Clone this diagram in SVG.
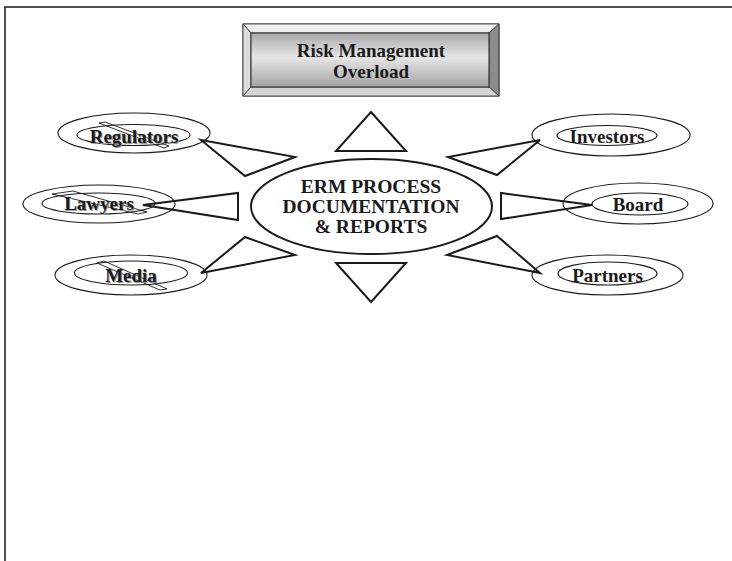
<svg xmlns="http://www.w3.org/2000/svg" width="732" height="561" viewBox="0 0 732 561">
<style>
.t{font-family:"Liberation Serif","Times New Roman",serif;font-weight:bold;fill:#1a1a1a;text-anchor:middle}
.lbl{font-size:19px}
.sh{font-family:"Liberation Serif","Times New Roman",serif;font-weight:bold;fill:#9a9a9a;text-anchor:middle;font-size:19px}
.ol{fill:none;stroke:#1a1a1a;stroke-width:1.1}
.conn{fill:none;stroke:#1a1a1a;stroke-width:2;stroke-linejoin:miter}
.slash{fill:none;stroke:#1a1a1a;stroke-width:0.9}
</style>
<defs>
<linearGradient id="face" x1="0" y1="0" x2="0" y2="1">
<stop offset="0" stop-color="#a9a9a9"/>
<stop offset="0.45" stop-color="#e6e6e6"/>
<stop offset="1" stop-color="#a4a4a4"/>
</linearGradient>
</defs>
<rect width="732" height="561" fill="#fff"/>
<path d="M5,561 V7 H732" fill="none" stroke="#1a1a1a" stroke-width="1.5"/>

<g id="connectors">
<polygon class="conn" points="371,112 406,151 336,151"/>
<polygon class="conn" points="371,302 406,263 336,263"/>
<polygon class="conn" points="201,140 295,157 245,176"/>
<polygon class="conn" points="143,205 238,193 238,220"/>
<polygon class="conn" points="201,273 295,255 245,237"/>
<polygon class="conn" points="540,140 448,157 497,175"/>
<polygon class="conn" points="592,205 501,193 501,219"/>
<polygon class="conn" points="540,273 447,255 497,236"/>
</g>

<g id="title">
<rect x="243" y="24" width="256" height="72" fill="#cfcfcf" stroke="#333" stroke-width="1"/>
<polygon points="243,24 499,24 489,33 251,33" fill="#efefef" stroke="#333" stroke-width="0.8"/>
<polygon points="243,24 251,33 251,87 243,96" fill="#dcdcdc" stroke="#333" stroke-width="0.8"/>
<polygon points="499,24 489,33 489,87 499,96" fill="#8c8c8c" stroke="#333" stroke-width="0.8"/>
<polygon points="243,96 251,87 489,87 499,96" fill="#d4d4d4" stroke="#333" stroke-width="0.8"/>
<rect x="251" y="33" width="238" height="54" fill="url(#face)" stroke="#222" stroke-width="1"/>
<text class="t" x="371" y="57" font-size="19">Risk Management</text>
<text class="t" x="371" y="78" font-size="19">Overload</text>
</g>

<g id="center">
<ellipse cx="371.5" cy="206.5" rx="120.5" ry="47.5" fill="#fff" stroke="#1a1a1a" stroke-width="2"/>
<text class="t" x="371" y="193" font-size="19.5">ERM PROCESS</text>
<text class="t" x="371" y="213" font-size="19.5">DOCUMENTATION</text>
<text class="t" x="371" y="233" font-size="19.5">&amp; REPORTS</text>
</g>

<g id="regulators">
<ellipse class="ol" cx="134" cy="133" rx="76" ry="20"/>
<ellipse class="ol" cx="133.5" cy="135" rx="56.5" ry="10.5"/>
<polygon class="slash" points="99,123 105,122 169,146 164,148"/>
<text class="sh" x="135" y="144">Regulators</text>
<text class="t lbl" x="134" y="143">Regulators</text>
</g>

<g id="lawyers">
<ellipse class="ol" cx="99" cy="204" rx="76" ry="19"/>
<ellipse class="ol" cx="98.5" cy="203.5" rx="56.5" ry="10.5"/>
<polygon class="slash" points="52,194 73,191 147,212 138,214"/>
<text class="sh" x="100" y="211">Lawyers</text>
<text class="t lbl" x="99" y="210">Lawyers</text>
</g>

<g id="media">
<ellipse class="ol" cx="131" cy="275" rx="76" ry="20"/>
<ellipse class="ol" cx="131" cy="273" rx="56.5" ry="12"/>
<polygon class="slash" points="97,263 104,261 167,289 160,290"/>
<text class="sh" x="132" y="283">Media</text>
<text class="t lbl" x="131" y="282">Media</text>
</g>

<g id="investors">
<ellipse class="ol" cx="611" cy="135" rx="79" ry="21"/>
<ellipse class="ol" cx="607" cy="135.5" rx="50" ry="10"/>
<text class="t lbl" x="607" y="143">Investors</text>
</g>

<g id="board">
<ellipse class="ol" cx="638" cy="203.5" rx="75" ry="20.5"/>
<ellipse class="ol" cx="640" cy="204" rx="48" ry="11"/>
<text class="t lbl" x="638" y="211">Board</text>
</g>

<g id="partners">
<ellipse class="ol" cx="607.5" cy="275" rx="75.5" ry="20"/>
<ellipse class="ol" cx="607.5" cy="273.5" rx="49.5" ry="11.5"/>
<text class="t lbl" x="607.5" y="282">Partners</text>
</g>
</svg>
